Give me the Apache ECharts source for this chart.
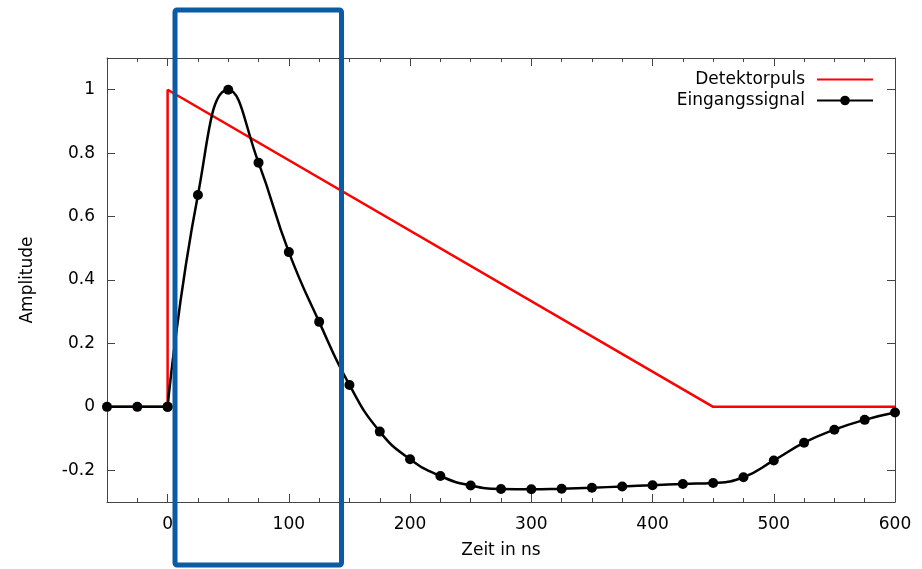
<!DOCTYPE html>
<html>
<head>
<meta charset="utf-8">
<script src="https://cdn.jsdelivr.net/npm/echarts@6/dist/echarts.min.js"></script>
<style>
html,body{margin:0;padding:0;background:#fff;}
#chart{width:922px;height:569px;}
</style>
</head>
<body>
<div id="chart"></div>
<script>
// Detector pulse (piecewise linear)
const pulseX = [-50, 0, 0, 450, 600];
const pulseY = [0, 0, 1, 0, 0];

// Input signal sampled every 25 ns
const signalX = [-50, -25, 0, 25, 50, 75, 100, 125, 150, 175, 200, 225, 250, 275, 300,
                 325, 350, 375, 400, 425, 450, 475, 500, 525, 550, 575, 600];
const signalY = [0, 0, 0, 0.668, 1.0, 0.77, 0.488, 0.268, 0.069, -0.078, -0.165, -0.218, -0.248, -0.259, -0.26,
                 -0.258, -0.255, -0.251, -0.247, -0.243, -0.24, -0.222, -0.169, -0.113, -0.072, -0.041, -0.018];
// index where the signal starts (before it: flat baseline)
const signalStart = 2;

const xMajorTicks = [0, 100, 200, 300, 400, 500, 600];
const xMinorTicks = [-25, 25, 50, 75, 125, 150, 175, 225, 250, 275, 325, 350, 375, 425, 450, 475, 525, 550, 575];
const yTicks = [-0.2, 0, 0.2, 0.4, 0.6, 0.8, 1];

const seriesNames = ['Detektorpuls', 'Eingangssignal'];

const FONT = 'DejaVu Sans';
const FS = 17;
const AX = '#444';

function xAxisDef(pos, ticks, len, showLine, showLabel, name) {
  return {
    type: 'value', position: pos, min: -50, max: 600,
    name: name || '', nameLocation: 'middle', nameGap: 40,
    nameTextStyle: {fontFamily: FONT, fontSize: FS, color: '#000'},
    axisLine: {show: showLine, onZero: false, lineStyle: {color: AX, width: 1}},
    axisTick: {show: true, inside: true, length: len, customValues: ticks, lineStyle: {color: AX, width: 1}},
    axisLabel: {show: showLabel, customValues: ticks, margin: 14, fontFamily: FONT, fontSize: FS, color: '#000'},
    splitLine: {show: false}
  };
}
function yAxisDef(pos, showLabel, name) {
  return {
    type: 'value', position: pos, min: -0.3, max: 1.1,
    name: name || '', nameLocation: 'middle', nameGap: 71, nameRotate: 90,
    nameTextStyle: {fontFamily: FONT, fontSize: FS, color: '#000'},
    axisLine: {show: true, onZero: false, lineStyle: {color: AX, width: 1}},
    axisTick: {show: true, inside: true, length: 8, customValues: yTicks, lineStyle: {color: AX, width: 1}},
    axisLabel: {show: showLabel, customValues: yTicks, margin: 12, fontFamily: FONT, fontSize: FS, color: '#000',
      formatter: v => (Math.abs(v) < 1e-9 ? '0' : String(Math.round(v * 10) / 10))},
    splitLine: {show: false}
  };
}

const signalPts = signalX.map((x, i) => [x, signalY[i]]);

const chart = echarts.init(document.getElementById('chart'), null, {renderer: 'canvas'});
chart.setOption({
  animation: false,
  backgroundColor: '#fff',
  grid: {left: 107, right: 27, top: 58, bottom: 67, containLabel: false},
  legend: {
    orient: 'vertical', right: 43, top: 66, align: 'right',
    itemWidth: 56, itemHeight: 12, itemGap: 4,
    textStyle: {fontFamily: FONT, fontSize: FS, color: '#000', padding: [0, 7, 0, 0]},
    data: [
      {name: seriesNames[0], itemStyle: {opacity: 0}},
      {name: seriesNames[1]}
    ]
  },
  xAxis: [
    xAxisDef('bottom', xMajorTicks, 8, true, true, 'Zeit in ns'),
    xAxisDef('bottom', xMinorTicks, 4, false, false),
    xAxisDef('top', xMajorTicks, 8, true, false),
    xAxisDef('top', xMinorTicks, 4, false, false)
  ],
  yAxis: [
    yAxisDef('left', true, 'Amplitude'),
    yAxisDef('right', false)
  ],
  series: [
    {
      name: seriesNames[0], type: 'line', xAxisIndex: 0, yAxisIndex: 0,
      data: pulseX.map((x, i) => [x, pulseY[i]]),
      symbol: 'none', lineStyle: {color: '#ff0000', width: 2.5}, itemStyle: {color: '#ff0000'}
    },
    {
      name: seriesNames[1], type: 'line', xAxisIndex: 0, yAxisIndex: 0,
      data: signalPts.slice(0, signalStart + 1),
      symbol: 'circle', symbolSize: 10,
      lineStyle: {color: '#000', width: 2.5}, itemStyle: {color: '#000'}
    },
    {
      name: seriesNames[1], type: 'line', xAxisIndex: 0, yAxisIndex: 0,
      data: signalPts.slice(signalStart),
      smooth: 0.5,
      symbol: 'circle', symbolSize: 10,
      lineStyle: {color: '#000', width: 2.5}, itemStyle: {color: '#000'}
    }
  ],
  graphic: [{
    type: 'rect', z: 100,
    shape: {x: 175, y: 10, width: 166.5, height: 555, r: 2},
    style: {fill: 'none', stroke: '#0b5aa6', lineWidth: 5}
  }]
});
</script>
</body>
</html>
